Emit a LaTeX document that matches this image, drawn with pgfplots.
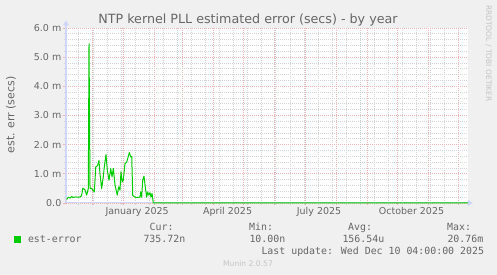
\documentclass[border=0pt]{standalone}
\usepackage{fontspec}
\setmainfont{DejaVu Sans}
\newfontfamily\mono{DejaVu Sans Mono}
\usepackage{pgfplots}
\pgfplotsset{compat=1.18}
\usetikzlibrary{arrows.meta}
\definecolor{bg}{HTML}{F0F0F0}
\definecolor{fontc}{HTML}{666666}
\definecolor{axisc}{HTML}{CFD6F8}
\definecolor{mgrid}{HTML}{EEB4B4}
\definecolor{gridc}{HTML}{D4D4D4}
\definecolor{linec}{HTML}{00CC00}
\definecolor{lightc}{HTML}{C4C4C4}

\begin{document}
\begin{tikzpicture}[x=1pt,y=1pt]
\fill[bg] (0,0) rectangle (497,275);
\useasboundingbox (0,0) rectangle (497,275);
\begin{axis}[
  at={(66pt,72pt)}, anchor=south west, scale only axis,
  width=402pt, height=175pt,
  xmin=-56.8, xmax=343.2, ymin=0, ymax=6,
  clip=false,
  axis line style={draw=none},
  axis background/.style={fill=white},
  xtick={-31,0,31,59,90,120,151,181,212,243,273,304,334},
  xticklabel={\hbox{}},
  minor xtick={-44,-30,-16,-2,12,26,40,54,68,82,96,110,124,138,152,166,180,194,208,222,236,250,264,278,292,306,320,334},
  ytick={0,1,2,3,4,5,6},
  minor y tick num=4,
  yticklabels={0.0,\mbox{1.0 m},\mbox{2.0 m},\mbox{3.0 m},\mbox{4.0 m},\mbox{5.0 m},\mbox{6.0 m}},
  grid=both,
  major grid style={mgrid, line width=0.8pt, dash pattern=on 1pt off 1pt},
  minor grid style={gridc, line width=0.8pt, dash pattern=on 1pt off 1pt},
  tick align=outside,
  xtick pos=left, ytick pos=left,
  major tick length=2.5pt, minor tick length=2pt,
  major tick style={mgrid, line width=0.8pt},
  minor tick style={gridc, line width=0.8pt},
  yticklabel style={font=\fontsize{9.5}{11}\selectfont, text=fontc, anchor=east, inner sep=0pt, xshift=-2pt},
  extra x ticks={14,104,195,287},
  extra x tick labels={January 2025,April 2025,July 2025,October 2025},
  extra x tick style={grid=none, major tick length=0pt,
     xticklabel style={font=\fontsize{9.5}{11}\selectfont, text=fontc, anchor=base, inner sep=0pt, yshift=-12pt}},
  legend style={at={(-0.12935,-0.2114)}, anchor=west, draw=none, fill=none, inner sep=0pt, outer sep=0pt,
     font=\mono\fontsize{9.9}{12}\selectfont, text=fontc},
  legend cell align=left,
]
\draw[axisc, line width=1pt, -{Triangle[width=6pt,length=5pt]}] (axis description cs:0,0) -- (axis description cs:0,1.043);
\draw[axisc, line width=1pt, -{Triangle[width=6pt,length=5pt]}] (axis description cs:0,0) -- (axis description cs:1.012,0);
\addplot[linec, line width=1pt, line join=round,
  legend image code/.code={\fill[linec] (0pt,-3pt) rectangle (6pt,3pt); \path (11pt,0pt);}] coordinates {
(-56.1,0.12) (-54.5,0.2) (-52.8,0.17) (-51,0.22) (-49.8,0.19) (-47.5,0.21) (-46,0.2) (-44,0.2) (-42,0.22) (-41,0.3) (-40.2,0.5) (-38.9,0.48) (-37.9,0.45) (-36.2,0.27) (-34.6,0.5) (-33.9,5.46) (-32.9,0.5) (-31.2,0.5) (-29.6,0.42) (-28.6,0.38) (-27.2,1.23) (-25.3,1.29) (-24,1.46) (-23,1.0) (-21.3,0.5) (-19.7,0.9) (-18.7,1.23) (-17,1.66) (-15.7,1.12) (-14,0.78) (-12.3,1.18) (-11,0.9) (-9.7,1.18) (-8,0.61) (-5.8,0.27) (-4.4,0.55) (-3.1,0.44) (-2.1,1.07) (-0.8,0.72) (0.2,0.78) (1.9,1.35) (3.6,1.4) (5.2,1.6) (6.2,1.73) (7.6,1.58) (8.6,1.6) (9.6,0.26) (11.9,0.2) (14.3,0.19) (16.8,0.2) (17.5,0.38) (18.5,0.2) (19.5,0.78) (20.8,0.92) (22.1,0.55) (23.5,0.2) (24.5,0.38) (25.5,0.27) (26.8,0.35) (27.8,0.2) (28.8,0.33) (30.1,0) (343.2,0)
};
\addlegendentry{est-error}
\end{axis}
\node[anchor=base, text=fontc, font=\fontsize{12.7}{14}\selectfont, inner sep=0pt] at (248,251.5) {NTP kernel PLL estimated error (secs) - by year};
\node[rotate=90, text=fontc, font=\fontsize{11}{13}\selectfont, inner sep=0pt] at (11,160) {est. err (secs)};
\node[rotate=-90, text=lightc, font=\fontsize{7.5}{9}\selectfont, inner sep=0pt] at (488.5,221.5) {RRDTOOL / TOBI OETIKER};
\begin{scope}[every node/.style={anchor=base west, inner sep=0pt, text=fontc, font=\mono\fontsize{9.9}{12}\selectfont}]
\node at (149.5,44) {Cur:};
\node at (249,44) {Min:};
\node at (348,44) {Avg:};
\node at (447,44) {Max:};
\node at (143.3,32.5) {735.72n};
\node at (249.3,32.5) {10.00n};
\node at (342.3,32.5) {156.54u};
\node at (447.3,32.5) {20.76m};
\node at (261.3,20) {Last update: Wed Dec 10 04:00:00 2025};
\end{scope}
\node[anchor=base, inner sep=0pt, text=lightc, font=\fontsize{7.6}{9}\selectfont] at (248,8.5) {Munin 2.0.57};
\end{tikzpicture}
\end{document}
